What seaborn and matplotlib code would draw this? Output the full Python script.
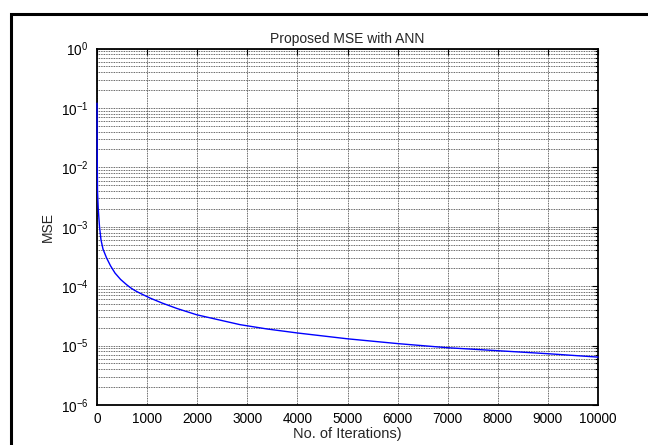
import matplotlib
matplotlib.use("Agg")
import matplotlib.pyplot as plt
from matplotlib.patches import Rectangle
from matplotlib.ticker import LogLocator, NullFormatter
import seaborn as sns
import pandas as pd

# ---- data ----
iterations = [0, 1, 3, 10, 25, 50, 80, 120, 190, 270, 360, 470, 590, 670, 750,
              860, 1060, 1300, 1600, 1990, 2400, 2855, 3400, 4000, 5000, 6000,
              7000, 8000, 9000, 10000]
mse = [0.12, 0.1, 0.02, 4e-3, 2e-3, 1e-3, 6e-4, 4.2e-4, 3e-4, 2.2e-4, 1.66e-4,
       1.3e-4, 1.06e-4, 9.4e-5, 8.5e-5, 7.6e-5, 6.3e-5, 5.2e-5, 4.2e-5, 3.3e-5,
       2.75e-5, 2.25e-5, 1.9e-5, 1.63e-5, 1.3e-5, 1.08e-5, 9.2e-6, 8.2e-6,
       7.3e-6, 6.4e-6]
x_ticks = [0, 1000, 2000, 3000, 4000, 5000, 6000, 7000, 8000, 9000, 10000]
title_text = "Proposed MSE with ANN"
x_label = "No. of Iterations)"
y_label = "MSE"

df = pd.DataFrame({"Iterations": iterations, "MSE": mse})

sns.set_style("white")
plt.rcParams["font.family"] = ["Liberation Sans", "DejaVu Sans"]
plt.rcParams["mathtext.fontset"] = "custom"
plt.rcParams["mathtext.rm"] = "Liberation Sans"
plt.rcParams["mathtext.it"] = "Liberation Sans:italic"
plt.rcParams["mathtext.bf"] = "Liberation Sans:bold"

W, H = 648, 445
fig = plt.figure(figsize=(W / 100, H / 100), dpi=100)
fig.patch.set_facecolor("white")

left, right, top, bottom = 97, 598, 48.5, 405
ax = fig.add_axes([left / W, 1 - bottom / H, (right - left) / W, (bottom - top) / H])

sns.lineplot(data=df, x="Iterations", y="MSE", ax=ax, color=(0, 0, 1),
             linewidth=1.0, estimator=None, sort=False)
for ln in ax.lines:
    ln.set_clip_on(False)
    ln.set_zorder(10)

ax.set_yscale("log")
ax.set_xlim(0, 10000)
ax.set_ylim(1e-6, 1)
ax.set_xticks(x_ticks)
ax.set_xticklabels([str(t) for t in x_ticks])
ax.yaxis.set_major_locator(LogLocator(base=10, numticks=10))
ax.yaxis.set_minor_locator(LogLocator(base=10, subs=range(2, 10), numticks=100))
ax.yaxis.set_minor_formatter(NullFormatter())

grid_kw = dict(color="0.2", linestyle=(0, (1, 1)), linewidth=0.6)
ax.grid(True, which="major", axis="both", **grid_kw)
ax.grid(True, which="minor", axis="y", **grid_kw)

ax.tick_params(axis="both", which="both", direction="in", top=True, right=True,
               colors="black", labelsize=9.8)
ax.tick_params(axis="both", which="major", length=4, width=0.8)
ax.tick_params(axis="y", which="minor", length=2.5, width=0.8)
ax.tick_params(axis="x", which="major", pad=5)
ax.tick_params(axis="y", which="major", pad=6)

for s in ax.spines.values():
    s.set_visible(True)
    s.set_color("black")
    s.set_linewidth(1.3)
    s.set_zorder(3)

ax.set_title(title_text, fontsize=10, pad=4)
ax.set_xlabel(x_label, fontsize=10.5)
ax.set_ylabel(y_label, fontsize=10)
ax.xaxis.set_label_coords(0.5, -(427 - bottom) / (bottom - top))
ax.yaxis.set_label_coords((55 - left) / (right - left), 0.5)

# outer frame (figure border, cropped at right/bottom)
frame = Rectangle((11 / W, -0.2), 1.3, (H - 14) / H + 0.2, transform=fig.transFigure,
                  fill=False, edgecolor="black", linewidth=2.2, clip_on=False)
fig.patches.append(frame)

fig.savefig("out.png", dpi=100, facecolor="white")
